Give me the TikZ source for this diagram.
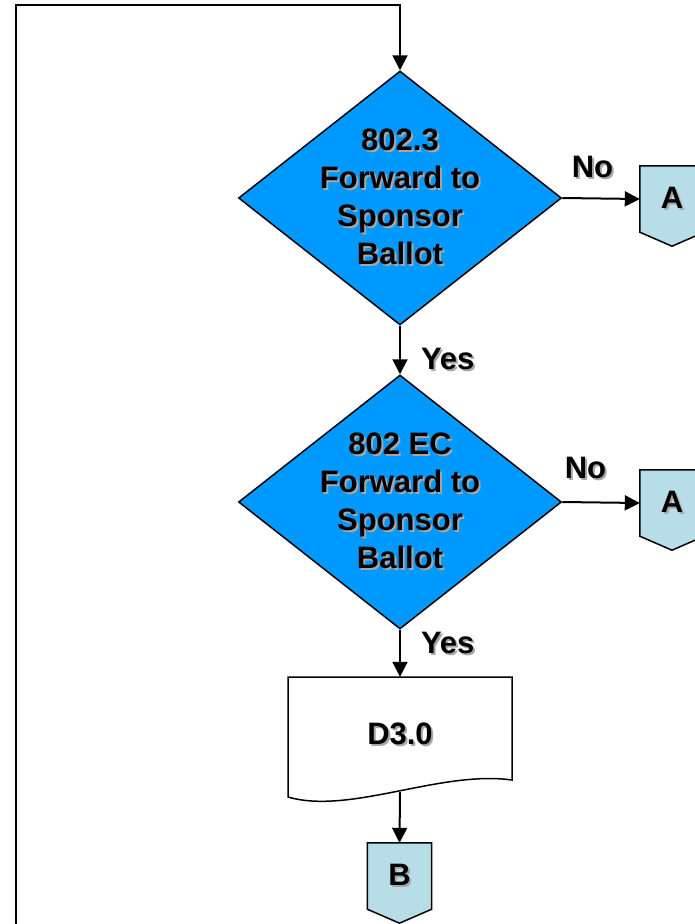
\documentclass[tikz,border=0pt]{standalone}
\usepackage{fontspec}
\setmainfont{Liberation Sans}
\usetikzlibrary{shapes.geometric, arrows.meta, calc, backgrounds}

\definecolor{decblue}{RGB}{0,153,255}
\definecolor{pagecol}{RGB}{183,222,232}
\newcommand{\shd}[1]{\rlap{\hspace{2pt}\raisebox{-2pt}{\color{black!35}#1}}#1}

\tikzset{
  bigfont/.style={font=\bfseries\fontsize{31}{38}\selectfont},
  decision/.style={diamond, draw, line width=1.5pt, fill=decblue, bigfont,
    minimum width=323pt, minimum height=254pt, aspect=1.27, inner sep=-15pt, align=center},
  offpage/.style={minimum width=64pt, minimum height=66pt, inner sep=0pt, bigfont},
  docbox/.style={minimum width=224pt, minimum height=115pt, inner sep=0pt, bigfont},
  flow/.style={line width=2pt, -{Triangle[length=15pt,width=15pt]}},
  lbl/.style={bigfont, inner sep=0pt}
}

\begin{document}
\begin{tikzpicture}[x=1pt, y=-1pt]
    \useasboundingbox (0,0) rectangle (695,924);
    % decisions
    \node[decision] (d1) at (400,198) {\shd{802.3}\\\shd{Forward to}\\\shd{Sponsor}\\\shd{Ballot}};
    \node[decision] (d2) at (400,502) {\shd{802 EC}\\\shd{Forward to}\\\shd{Sponsor}\\\shd{Ballot}};
    % document and off page connectors
    \node[docbox] (doc) at (400,734.5) {\shd{D3.0}};
    \node[offpage] (a1) at (672,199) {\shd{A}};
    \node[offpage] (a2) at (672,503) {\shd{A}};
    \node[offpage] (b) at (399.5,876) {\shd{B}};
    \coordinate (loop) at (16,924);

    \begin{scope}[on background layer]
        \draw[line width=1.5pt, fill=white] (288,677) -- (512,677) -- (512,780)
            .. controls (440,770) and (350,815) .. (288,797) -- cycle;
        \foreach \n in {a1,a2,b}
            \draw[line width=1.5pt, fill=pagecol] (\n.north west) -- (\n.north east) -- (\n.south east)
                -- ($(\n.south)+(0,14)$) -- (\n.south west) -- cycle;
    \end{scope}

    \draw[flow] (loop) -- (16,5) -| (d1.north);
    \draw[flow] (d1.east) -- node[lbl, pos=0.39, above=18pt] {\shd{No}} (a1.west);
    \draw[flow] (d1.south) -- node[lbl, pos=0.7, right=20pt] {\shd{Yes}} (d2.north);
    \draw[flow] (d2.east) -- node[lbl, pos=0.3, above=21pt] {\shd{No}} (a2.west);
    \draw[flow] (d2.south) -- node[lbl, pos=0.3, right=20pt] {\shd{Yes}} (doc.north);
    \draw[flow] (doc.south) -- (b.north);
\end{tikzpicture}
\end{document}
